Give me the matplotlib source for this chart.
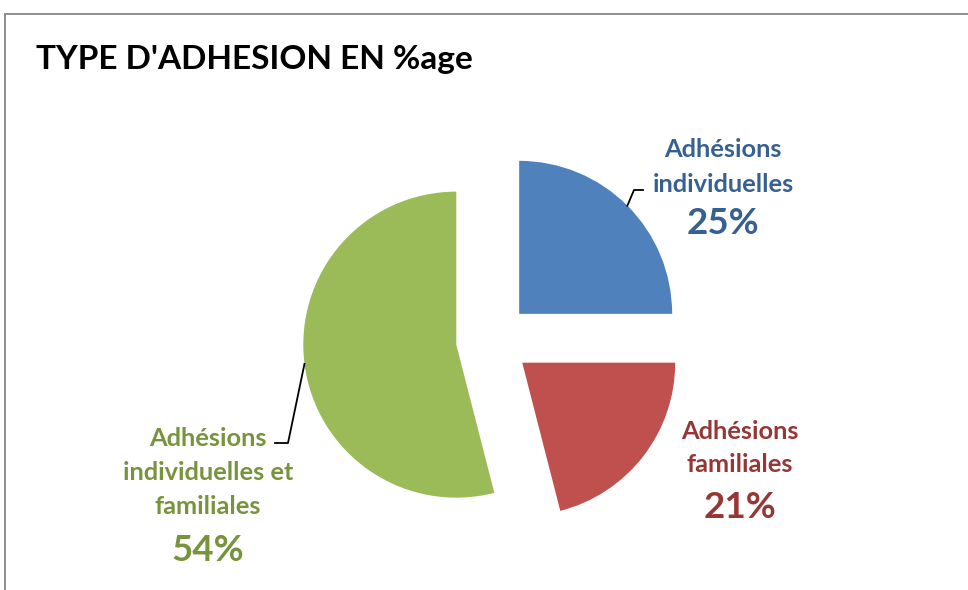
import numpy as np
import matplotlib
matplotlib.use("Agg")
import matplotlib.pyplot as plt

# ---- data ----
title = "TYPE D'ADHESION EN %age"
categories = ["Adhésions individuelles", "Adhésions familiales",
              "Adhésions individuelles et familiales"]
label_lines = [["Adhésions", "individuelles"],
               ["Adhésions", "familiales"],
               ["Adhésions", "individuelles et", "familiales"]]
values = [25, 21, 54]

# ---- style ----
slice_colors = ["#4F81BD", "#C0504D", "#9BBB59"]
text_colors = ["#376092", "#953735", "#77933C"]
FONT = "Lato"
W, H = 968, 590

fig = plt.figure(figsize=(W / 100, H / 100), dpi=100)
ax = fig.add_axes([0, 0, 1, 1])

def py(y):  # pixel row -> data y
    return H - y

center = (493, py(340))
radius = 153
expl = 37
wedges, _ = ax.pie(values, colors=slice_colors, startangle=90, counterclock=False,
                   radius=radius, center=center, explode=[expl] * len(values),
                   wedgeprops=dict(linewidth=0), frame=True)
ax.set_xlim(0, W)
ax.set_ylim(0, H)
ax.set_aspect("equal")
ax.axis("off")

# frame (only top and left edges visible)
ax.plot([4.5, 4.5], [py(13.5), py(600)], color="#868686", lw=1.3, solid_capstyle="butt", clip_on=False)
ax.plot([4, W + 10], [py(13.5), py(13.5)], color="#868686", lw=1.3, solid_capstyle="butt", clip_on=False)

# title
ax.text(36, py(69), title, fontsize=24, fontweight="bold", family=FONT,
        ha="left", va="baseline", color="black")

# labels: (center x, baselines of name lines, baseline of percent)
label_pos = [(723, [157, 192], 234),
             (740, [439, 472], 518),
             (208, [446, 480, 514], 561)]
for i, (lx, bases, pbase) in enumerate(label_pos):
    for line, b in zip(label_lines[i], bases):
        ax.text(lx, py(b), line, fontsize=18.3, fontweight="bold", family=FONT,
                ha="center", va="baseline", color=text_colors[i])
    ax.text(lx, py(pbase), f"{values[i]}%", fontsize=26.5, fontweight="bold",
            family=FONT, ha="center", va="baseline", color=text_colors[i])

# leader lines from wedge mid-arc
leaders = {0: [(634, 190), (643, 190)], 2: [(288, 443), (275, 443)]}
for i, pts in leaders.items():
    w = wedges[i]
    th = np.deg2rad((w.theta1 + w.theta2) / 2)
    sx = w.center[0] + radius * np.cos(th)
    sy = w.center[1] + radius * np.sin(th)
    xs = [sx] + [p[0] for p in pts]
    ys = [sy] + [py(p[1]) for p in pts]
    ax.plot(xs, ys, color="black", lw=1.3)

fig.savefig("out.png", dpi=100)
